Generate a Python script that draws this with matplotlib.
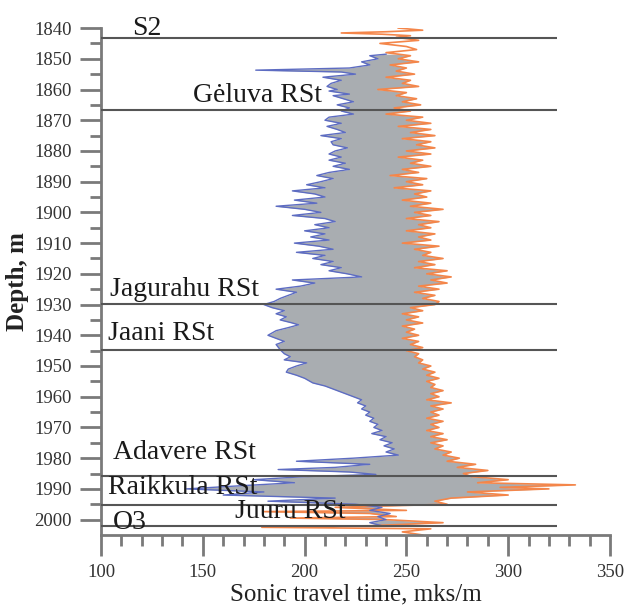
import matplotlib
matplotlib.use("Agg")
import matplotlib.pyplot as plt
import numpy as np

# ---- data (depth in m, sonic travel time in mks/m) ----
blue_depth = [1848.5, 1849, 1850, 1851, 1852, 1853, 1853.7, 1854.3, 1855, 1856, 1857, 1858,
              1859, 1860, 1860.5, 1861.5, 1862, 1863, 1864, 1865, 1866, 1867, 1868, 1869,
              1870, 1871, 1872, 1873, 1874, 1875, 1876, 1877, 1878, 1879, 1880, 1881,
              1882, 1883, 1884, 1885, 1886, 1887, 1888, 1889, 1890, 1891, 1892, 1893,
              1894, 1895, 1896, 1897, 1898, 1899, 1900, 1901, 1902, 1903, 1904, 1905,
              1906, 1907, 1908, 1909, 1910, 1911, 1912, 1913, 1914, 1915, 1916, 1917,
              1918, 1919, 1920, 1921, 1922, 1923, 1924, 1925, 1926, 1927, 1928, 1929,
              1930, 1931, 1932, 1933, 1934, 1935, 1936, 1936.6, 1937.5, 1938.5, 1940, 1941,
              1942, 1943, 1944.7, 1946, 1947, 1948, 1949, 1950, 1951, 1952, 1953, 1954,
              1955.5, 1956.5, 1957.5, 1958.5, 1960, 1961, 1962, 1963, 1964, 1965, 1966, 1967,
              1968, 1969, 1970, 1971, 1972, 1973, 1974, 1975, 1976, 1977, 1978, 1979,
              1980, 1981, 1982, 1983, 1983.7, 1984.5, 1985.3, 1986, 1987, 1988, 1989, 1990,
              1991, 1992, 1993, 1994, 1995, 1996, 1997, 1998, 1999, 2000, 2001, 2002]
blue_val = [240, 232, 236, 228, 232, 222, 176, 218, 225, 209, 218, 213,
            211, 216, 212, 222, 214, 219, 224, 216, 222, 218, 224, 212,
            210, 218, 211, 216, 220, 208, 218, 213, 214, 221, 215, 212,
            218, 212, 220, 214, 222, 212, 206, 214, 208, 201, 210, 194,
            205, 210, 195, 206, 186, 200, 208, 194, 210, 215, 205, 212,
            200, 210, 203, 212, 195, 207, 214, 196, 210, 204, 214, 208,
            218, 212, 221, 228, 194, 205, 198, 186, 196, 192, 188, 185,
            180, 184, 190, 186, 191, 188, 194, 197, 192, 186, 182, 186,
            190, 186, 188, 190, 193, 190, 201, 196, 192, 191, 196, 200,
            204, 210, 214, 218, 224, 228, 226, 230, 228, 232, 230, 234,
            232, 236, 234, 238, 233, 240, 237, 243, 239, 244, 240, 246,
            224, 196, 232, 215, 187, 222, 235, 200, 175, 195, 168, 142,
            180, 160, 215, 182, 225, 238, 232, 242, 236, 240, 232, 238]

orange_depth = [1840, 1840.7, 1841.2, 1841.6, 1842, 1842.5, 1843, 1844, 1845, 1846, 1847, 1848,
                1849, 1850, 1851, 1852, 1853, 1854, 1855, 1856, 1857, 1858, 1859, 1860,
                1861, 1862, 1863, 1864, 1865, 1866, 1867, 1868, 1869, 1870, 1871, 1872,
                1873, 1874, 1875, 1876, 1877, 1878, 1879, 1880, 1881, 1882, 1883, 1884,
                1885, 1886, 1887, 1888, 1889, 1890, 1891, 1892, 1893, 1894, 1895, 1896,
                1897, 1898, 1899, 1900, 1901, 1902, 1903, 1904, 1905, 1906, 1907, 1908,
                1909, 1910, 1911, 1912, 1913, 1914, 1915, 1916, 1917, 1918, 1919, 1920,
                1921, 1922, 1923, 1924, 1925, 1926, 1927, 1928, 1929, 1930, 1931, 1932,
                1933, 1934, 1935, 1936, 1937, 1938, 1939, 1940, 1941, 1942, 1943, 1944,
                1945, 1946, 1947, 1948, 1949, 1950, 1951, 1952, 1953, 1954, 1955, 1956,
                1957, 1958, 1959, 1960, 1961, 1962, 1963, 1964, 1965, 1966, 1967, 1968,
                1969, 1970, 1971, 1972, 1973, 1974, 1975, 1976, 1977, 1978, 1979, 1980,
                1981, 1982, 1983, 1984, 1985, 1986, 1987, 1988, 1988.7, 1989.5, 1990, 1991,
                1992, 1993, 1994, 1995, 1996, 1997, 1997.4, 1998, 1999, 1999.5, 2000, 2001,
                2002, 2002.5, 2003, 2004, 2005]
orange_val = [246, 258, 240, 218, 238, 252, 245, 256, 237, 250, 255, 240,
              252, 246, 256, 242, 250, 245, 254, 240, 252, 248, 256, 236,
              250, 245, 255, 248, 257, 244, 252, 240, 258, 250, 262, 246,
              262, 252, 264, 248, 262, 255, 264, 250, 262, 246, 258, 252,
              262, 248, 256, 242, 260, 250, 258, 244, 262, 254, 260, 248,
              262, 252, 268, 254, 262, 250, 266, 256, 262, 250, 264, 256,
              262, 248, 266, 254, 262, 258, 268, 256, 264, 254, 270, 260,
              272, 262, 270, 256, 266, 254, 264, 258, 266, 264, 252, 258,
              248, 256, 250, 258, 248, 254, 250, 256, 248, 256, 252, 258,
              250, 256, 254, 258, 256, 262, 258, 264, 260, 266, 260, 264,
              262, 268, 262, 266, 260, 272, 262, 268, 262, 266, 260, 268,
              262, 266, 260, 268, 262, 270, 262, 268, 264, 272, 268, 276,
              270, 284, 275, 290, 278, 282, 300, 285, 333, 296, 320, 280,
              300, 272, 264, 270, 215, 250, 180, 232, 245, 193, 240, 268,
              232, 179, 262, 248, 258]

boundaries = [1843.3, 1866.8, 1929.8, 1944.8, 1985.8, 1995.1, 2002.0]
labels = ["S2", "Gėluva RSt", "Jagurahu RSt", "Jaani RSt", "Adavere RSt",
          "Raikkula RSt", "Juuru RSt", "O3"]
label_x = [115.5, 145, 104.5, 103.5, 106, 103.5, 166, 106]
label_y = [1840.0, 1862.0, 1925.0, 1939.5, 1978.0, 1989.6, 1997.4, 2000.8]

plt.rcParams['font.family'] = ['Liberation Serif', 'DejaVu Serif']

fig = plt.figure(figsize=(6.25, 6.10), dpi=100)
ax = fig.add_axes([0.1616, 0.123, 0.8144, 0.831])

# common depth grid for the fill
grid = np.union1d(blue_depth, orange_depth)
grid = grid[(grid >= blue_depth[0]) & (grid <= blue_depth[-1])]
b_i = np.interp(grid, blue_depth, blue_val)
o_i = np.interp(grid, orange_depth, orange_val)
ax.fill_betweenx(grid, b_i, o_i, color='#a9adb1', lw=0)
ax.plot(orange_val, orange_depth, color='#f4864a', lw=1.2)
ax.plot(blue_val, blue_depth, color='#5d6cc2', lw=1.0)

ax.hlines(boundaries, 100, 324, colors='#555555', lw=1.5, zorder=3)

for t, x, y in zip(labels, label_x, label_y):
    ax.text(x, y, t, fontsize=20, color='#1a1a1a', va='center', ha='left', zorder=4)

ax.set_xlim(100, 350)
ax.set_ylim(2005, 1840)
ax.set_xticks(np.arange(100, 351, 50))
ax.set_xticks(np.arange(100, 351, 10), minor=True)
ax.set_yticks(np.arange(1840, 2001, 10))
ax.set_yticks(np.arange(1845, 2005, 5), minor=True)

for s in ['top', 'right']:
    ax.spines[s].set_visible(False)
for s in ['left', 'bottom']:
    ax.spines[s].set_color('#7a7a7a')
    ax.spines[s].set_linewidth(2)

ax.tick_params(which='major', length=15, width=2, color='#7a7a7a', labelsize=13.5,
               labelcolor='#333333', pad=6)
ax.tick_params(which='minor', length=8, width=2, color='#7a7a7a')

ax.set_xlabel('Sonic travel time, mks/m', fontsize=18, color='#222222', labelpad=2)
ax.set_ylabel('Depth, m', fontsize=18, color='#222222', labelpad=4, fontweight='bold')

fig.savefig('out.png', dpi=100)
